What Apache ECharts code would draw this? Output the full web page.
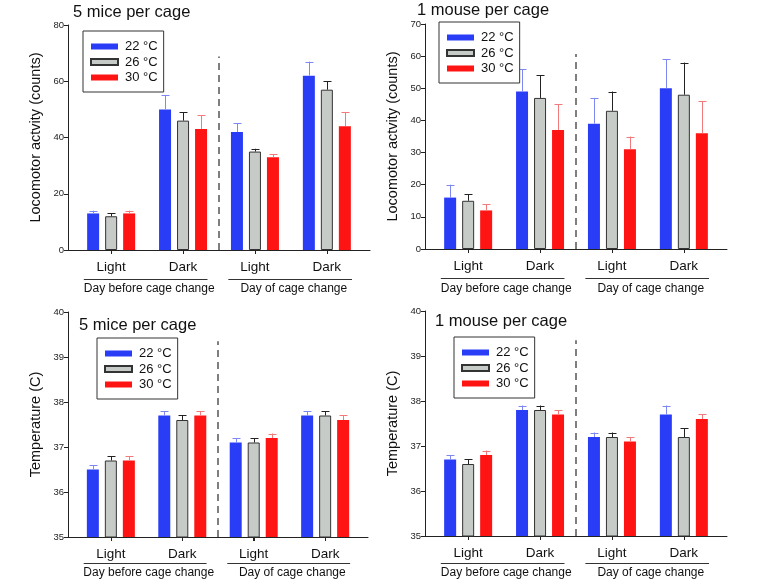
<!DOCTYPE html>
<html><head><meta charset="utf-8">
<script src="https://cdn.jsdelivr.net/npm/echarts@6/dist/echarts.min.js"></script>
<style>html,body{margin:0;padding:0;background:#fff}#c{width:759px;height:584px}</style>
</head><body><div id="c"></div>
<script>
// ---------------- data ----------------
const categories = ['Light', 'Dark', 'Light', 'Dark'];
const categoryPos = [1, 2, 3, 4];
const groupLabels = ['Day before cage change', 'Day of cage change'];
const groupPos = [1.53, 3.54];
const tempNames = ['22 °C', '26 °C', '30 °C'];
const panelTitles = ['5 mice per cage', '1 mouse per cage', '5 mice per cage', '1 mouse per cage'];
const yNames = ['Locomotor actvity (counts)', 'Locomotor actvity (counts)', 'Temperature (C)', 'Temperature (C)'];
const yMins = [0, 0, 35, 35];
const yMaxs = [80, 70, 40, 40];
const yIntervals = [20, 10, 1, 1];
const dividerTops = [68.8, 60.7, 39.35, 39.35];

// Panel A: locomotor activity, 5 mice per cage (mean, upper error end)
const act5_22 = [13, 50, 42, 62], act5_22_hi = [14, 55, 45, 67];
const act5_26 = [12, 46, 35, 57], act5_26_hi = [13, 49, 36, 60];
const act5_30 = [13, 43, 33, 44], act5_30_hi = [14, 48, 34, 49];
// Panel B: locomotor activity, 1 mouse per cage
const act1_22 = [16, 49, 39, 50], act1_22_hi = [20, 56, 47, 59];
const act1_26 = [15, 47, 43, 48], act1_26_hi = [17, 54, 49, 58];
const act1_30 = [12, 37, 31, 36], act1_30_hi = [14, 45, 35, 46];
// Panel C: temperature, 5 mice per cage
const tmp5_22 = [36.5, 37.7, 37.1, 37.7], tmp5_22_hi = [36.6, 37.8, 37.2, 37.8];
const tmp5_26 = [36.7, 37.6, 37.1, 37.7], tmp5_26_hi = [36.8, 37.7, 37.2, 37.8];
const tmp5_30 = [36.7, 37.7, 37.2, 37.6], tmp5_30_hi = [36.8, 37.8, 37.3, 37.7];
// Panel D: temperature, 1 mouse per cage
const tmp1_22 = [36.7, 37.8, 37.2, 37.7], tmp1_22_hi = [36.8, 37.9, 37.3, 37.9];
const tmp1_26 = [36.6, 37.8, 37.2, 37.2], tmp1_26_hi = [36.7, 37.9, 37.3, 37.4];
const tmp1_30 = [36.8, 37.7, 37.1, 37.6], tmp1_30_hi = [36.9, 37.8, 37.2, 37.7];

const panelMeans = [[act5_22, act5_26, act5_30], [act1_22, act1_26, act1_30], [tmp5_22, tmp5_26, tmp5_30], [tmp1_22, tmp1_26, tmp1_30]];
const panelHis = [[act5_22_hi, act5_26_hi, act5_30_hi], [act1_22_hi, act1_26_hi, act1_30_hi], [tmp5_22_hi, tmp5_26_hi, tmp5_30_hi], [tmp1_22_hi, tmp1_26_hi, tmp1_30_hi]];

// ---------------- layout & style ----------------
const FONT = '"Liberation Sans", Arial, sans-serif';
const grids = [
  {left: 68, top: 25, width: 302, height: 225},
  {left: 425, top: 24, width: 302, height: 225},
  {left: 68, top: 312, width: 300, height: 225},
  {left: 425, top: 311, width: 302, height: 225}
];
const titlePos = [[73, 3.5], [417, 1.5], [79, 316.5], [435, 313]];
const legendPos = [[83, 31], [439, 22], [97, 338], [454, 337]];
const rowLabel = [{cat: 10, grp: 33, line: 28.5}, {cat: 10, grp: 33.5, line: 28.5}, {cat: 10, grp: 30, line: 26}, {cat: 10, grp: 30.5, line: 27}];
const barFill = ['#2a3df6', '#c6cbc8', '#ff1414'];
const barBorder = [null, '#333', null];
const errColor = ['#7d88f2', '#222', '#f27a7a'];
const BAR_W = 12, BAR_GAP = 0.5;
const X_MIN = 0.4, X_MAX = 4.6;

const option = {
  backgroundColor: '#fff',
  animation: false,
  textStyle: {fontFamily: FONT},
  title: [], legend: [], grid: [], xAxis: [], yAxis: [], series: []
};

for (let p = 0; p < 4; p++) {
  option.grid.push(Object.assign({}, grids[p]));
  option.title.push({
    text: panelTitles[p], left: titlePos[p][0], top: titlePos[p][1], padding: 0,
    textStyle: {fontFamily: FONT, fontSize: 16.5, fontWeight: 'normal', color: '#111'}
  });
  option.legend.push({
    data: tempNames, left: legendPos[p][0], top: legendPos[p][1], orient: 'vertical',
    selectedMode: false, icon: 'rect', itemWidth: 27, itemHeight: 6, itemGap: 0.5,
    padding: [8, 6, 7, 7], borderColor: '#333', borderWidth: 1, backgroundColor: '#fff',
    textStyle: {fontFamily: FONT, fontSize: 13, color: '#111', lineHeight: 15, padding: [0, 0, 0, 2]}
  });
  // main category axis (value-based positions)
  option.xAxis.push({
    type: 'value', gridIndex: p, min: X_MIN, max: X_MAX, position: 'bottom',
    splitLine: {show: false},
    axisLine: {lineStyle: {color: '#222', width: 1}},
    axisTick: {show: true, length: 4, customValues: categoryPos, lineStyle: {color: '#222'}},
    axisLabel: {customValues: categoryPos, margin: rowLabel[p].cat, fontFamily: FONT, fontSize: 13.5, color: '#111',
      formatter: v => categories[categoryPos.indexOf(v)]}
  });
  // group label axis
  option.xAxis.push({
    type: 'value', gridIndex: p, min: X_MIN, max: X_MAX, position: 'bottom', offset: 0,
    splitLine: {show: false}, axisLine: {show: false}, axisTick: {show: false},
    axisLabel: {customValues: groupPos, margin: rowLabel[p].grp, fontFamily: FONT, fontSize: 12, color: '#111',
      formatter: v => groupLabels[groupPos.indexOf(v)]}
  });
  option.yAxis.push({
    type: 'value', gridIndex: p, min: yMins[p], max: yMaxs[p], interval: yIntervals[p],
    name: yNames[p], nameLocation: 'middle', nameGap: 25,
    nameTextStyle: {fontFamily: FONT, fontSize: 14.5, color: '#111'},
    splitLine: {show: false},
    axisLine: {show: true, lineStyle: {color: '#222', width: 1}},
    axisTick: {show: true, length: 4, lineStyle: {color: '#222'}},
    axisLabel: {fontFamily: FONT, fontSize: 9.5, color: '#222', margin: 4}
  });
  for (let k = 0; k < 3; k++) {
    const bar = {
      type: 'bar', name: tempNames[k], xAxisIndex: p * 2, yAxisIndex: p,
      barWidth: BAR_W, barGap: (BAR_GAP * 100) + '%',
      itemStyle: {color: barFill[k], borderColor: barBorder[k] || barFill[k], borderWidth: barBorder[k] ? 1 : 0},
      data: panelMeans[p][k].map((v, i) => [categoryPos[i], v]),
      z: 2
    };
    if (k === 1) {
      bar.markLine = {
        silent: true, symbol: 'none', label: {show: false}, animation: false,
        lineStyle: {color: '#555', width: 1.5, type: [7, 5]},
        data: [[{coord: [2.5, yMins[p]]}, {coord: [2.5, dividerTops[p]]}]]
      };
    }
    option.series.push(bar);
    const dx = (k - 1) * BAR_W * (1 + BAR_GAP);
    option.series.push({
      type: 'custom', name: 'err' + p + k, xAxisIndex: p * 2, yAxisIndex: p, z: 3,
      encode: {x: 0, y: [1, 2]},
      data: panelMeans[p][k].map((v, i) => [categoryPos[i], v, panelHis[p][k][i]]),
      renderItem: (params, api) => {
        const a = api.coord([api.value(0), api.value(1)]);
        const b = api.coord([api.value(0), api.value(2)]);
        const x = Math.round(a[0] + dx) + 0.5;
        const st = {stroke: errColor[k], lineWidth: 1};
        return {type: 'group', children: [
          {type: 'line', shape: {x1: x, y1: a[1], x2: x, y2: b[1]}, style: st},
          {type: 'line', shape: {x1: x - 4, y1: Math.round(b[1]) + 0.5, x2: x + 4, y2: Math.round(b[1]) + 0.5}, style: st}
        ]};
      }
    });
  }
}

const chart = echarts.init(document.getElementById('c'), null, {renderer: 'canvas'});
chart.setOption(option);

// group underlines and category ticks computed from the axis scales
const UL_HALF = 0.86;
const graphics = [];
for (let p = 0; p < 4; p++) {
  const finder = {xAxisIndex: p * 2, yAxisIndex: p};
  for (let g = 0; g < groupPos.length; g++) {
    const a = chart.convertToPixel(finder, [groupPos[g] - 0.05 - UL_HALF, yMins[p]]);
    const b = chart.convertToPixel(finder, [groupPos[g] - 0.05 + UL_HALF, yMins[p]]);
    const y = Math.round(a[1] + rowLabel[p].line) + 0.5;
    graphics.push({type: 'line', shape: {x1: a[0], y1: y, x2: b[0], y2: y}, style: {stroke: '#333', lineWidth: 1}, silent: true});
  }
  categoryPos.forEach(c => {
    const t = chart.convertToPixel(finder, [c, yMins[p]]);
    const x = Math.round(t[0]) + 0.5;
    graphics.push({type: 'line', shape: {x1: x, y1: t[1], x2: x, y2: t[1] + 4}, style: {stroke: '#222', lineWidth: 1}, silent: true});
  });
}
chart.setOption({graphic: graphics});
</script></body></html>
